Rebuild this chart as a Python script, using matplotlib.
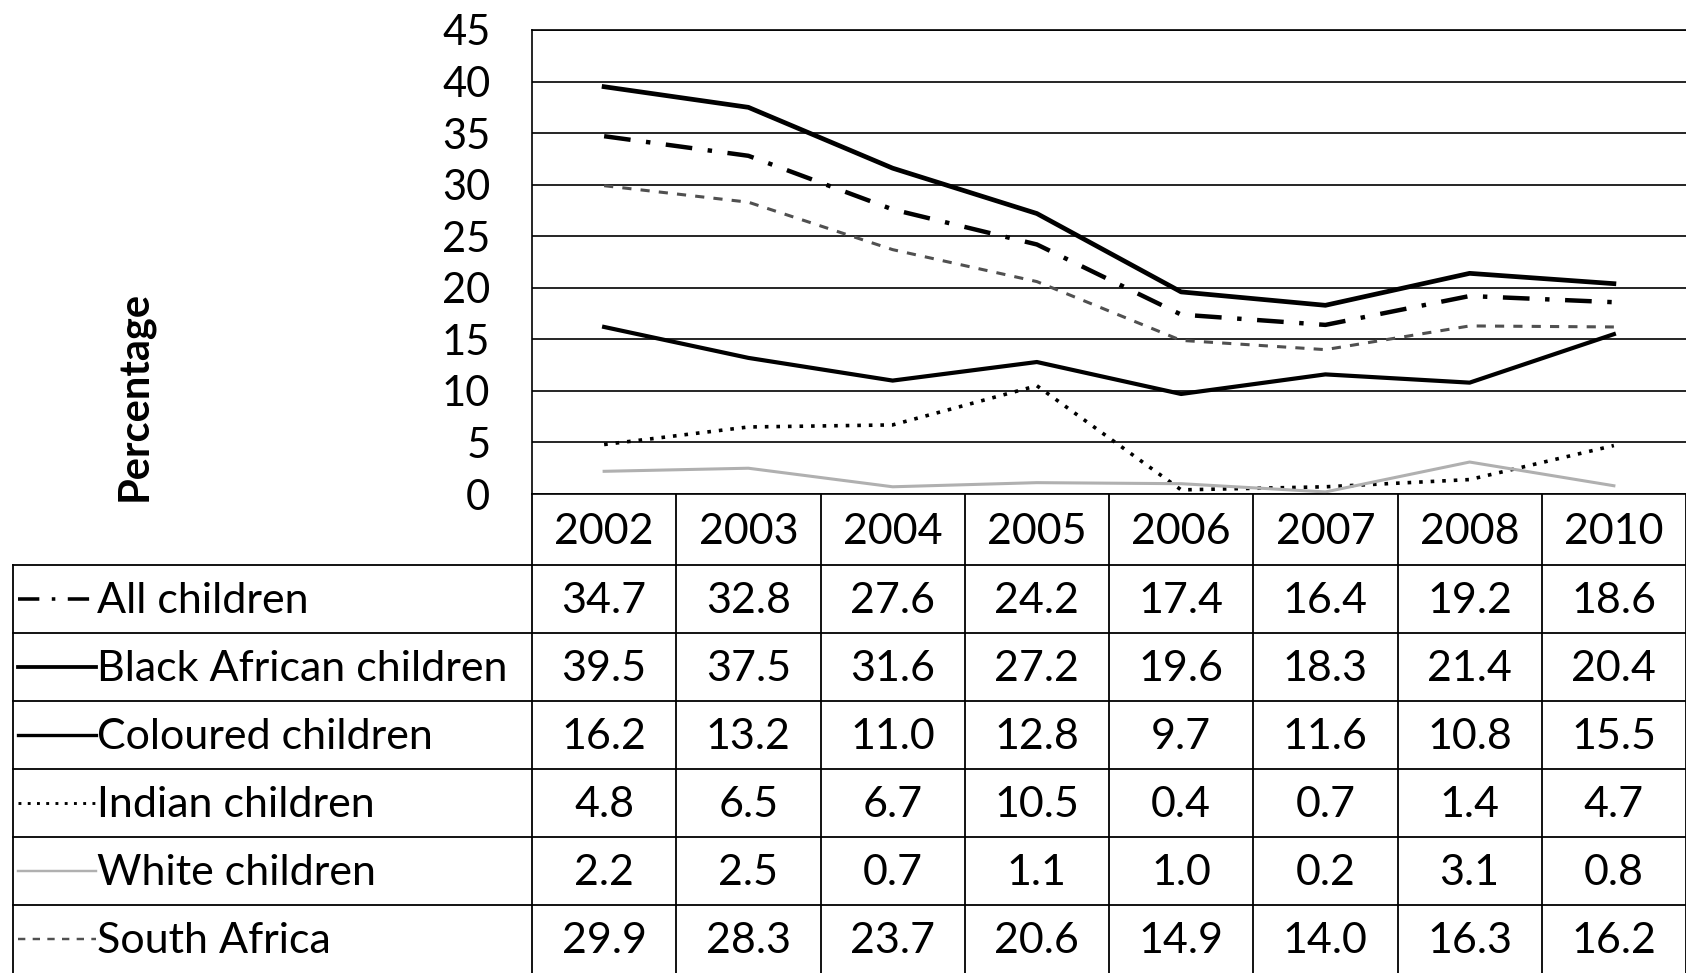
import numpy as np
import matplotlib
matplotlib.use("Agg")
from matplotlib import pyplot as plt
from matplotlib.lines import Line2D

plt.rcParams['font.family'] = ['Lato', 'DejaVu Sans']

years = ['2002', '2003', '2004', '2005', '2006', '2007', '2008', '2010']
series_names = ['All children', 'Black African children', 'Coloured children',
                'Indian children', 'White children', 'South Africa']
all_children = [34.7, 32.8, 27.6, 24.2, 17.4, 16.4, 19.2, 18.6]
black_african = [39.5, 37.5, 31.6, 27.2, 19.6, 18.3, 21.4, 20.4]
coloured = [16.2, 13.2, 11.0, 12.8, 9.7, 11.6, 10.8, 15.5]
indian = [4.8, 6.5, 6.7, 10.5, 0.4, 0.7, 1.4, 4.7]
white = [2.2, 2.5, 0.7, 1.1, 1.0, 0.2, 3.1, 0.8]
south_africa = [29.9, 28.3, 23.7, 20.6, 14.9, 14.0, 16.3, 16.2]
values = [all_children, black_african, coloured, indian, white, south_africa]

styles = [
    dict(color='black', lw=3.2, ls=(0, (6, 3.5, 1, 3.5))),
    dict(color='black', lw=3.4, ls='-'),
    dict(color='black', lw=3.0, ls='-'),
    dict(color='black', lw=2.6, ls=(0, (1, 2.2))),
    dict(color='#b0b0b0', lw=2.2, ls='-'),
    dict(color='#505050', lw=2.2, ls=(0, (3, 3))),
]

W, H = 1686, 973
left, top, bottom = 532, 30, 494
colw = (W - left) / len(years)
row_edges = [494, 565, 633, 701, 769, 837, 905, 973]
tab_left = 13

fig = plt.figure(figsize=(W / 100, H / 100), dpi=100)

# table layer in pixel coordinates
tab = fig.add_axes([0, 0, 1, 1])
tab.set_xlim(0, W)
tab.set_ylim(H, 0)
tab.axis('off')

ax = fig.add_axes([left / W, (H - bottom) / H, (W - left) / W, (bottom - top) / H])
x = np.arange(len(years))
for vals, st in zip(values, styles):
    ax.plot(x, vals, color=st['color'], lw=st['lw'], linestyle=st['ls'])
ax.set_xlim(-0.5, len(years) - 0.5)
ax.set_ylim(0, 45)
ax.set_yticks(range(0, 50, 5))
ax.set_xticks([])
ax.tick_params(axis='y', length=0, labelsize=30, pad=30)
ax.yaxis.grid(True, color='black', lw=1.2)
ax.set_axisbelow(True)
for s in ['top', 'left', 'bottom']:
    ax.spines[s].set_color('black')
    ax.spines[s].set_linewidth(1.2)
ax.spines['right'].set_visible(False)
fig.text(134 / W, 1 - 396 / H, 'Percentage', rotation=90, fontsize=30,
         fontweight='bold', ha='center', va='center')

# table grid
lc = dict(color='black', lw=1.3)
for i in range(len(years) + 1):
    xe = left + i * colw
    tab.plot([xe, xe], [row_edges[0], H], **lc)
tab.plot([tab_left, tab_left], [row_edges[1], H], **lc)
for y in row_edges[1:-1]:
    tab.plot([tab_left, W], [y, y], **lc)

# year header
for i, yr in enumerate(years):
    tab.text(left + (i + 0.5) * colw, (row_edges[0] + row_edges[1]) / 2 + 2, yr,
             fontsize=31, ha='center', va='center')

# rows with legend keys
for r, (name, vals, st) in enumerate(zip(series_names, values, styles)):
    yc = (row_edges[r + 1] + row_edges[r + 2]) / 2
    tab.add_line(Line2D([18, 96], [yc, yc], color=st['color'], lw=st['lw'] * 0.8,
                        linestyle=st['ls']))
    tab.text(97, yc + 2, name, fontsize=31, ha='left', va='center')
    for i, v in enumerate(vals):
        tab.text(left + (i + 0.5) * colw, yc + 2, f'{v:.1f}', fontsize=31,
                 ha='center', va='center')

fig.savefig('out.png', dpi=100)
